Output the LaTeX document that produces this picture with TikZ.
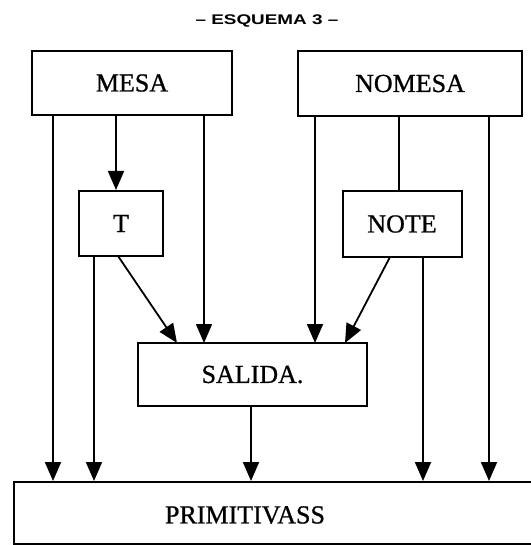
\documentclass[tikz,border=0pt]{standalone}
\usepackage{fontspec}
\setmainfont{Liberation Serif}
\newfontfamily\boxfont{Liberation Serif}[FakeBold=0.8]
\newfontfamily\titlefont{Liberation Sans}
\usetikzlibrary{arrows.meta,calc}

\begin{document}
\begin{tikzpicture}[x=1pt,y=-1pt,
 box/.style={draw, line width=2pt, inner sep=0pt, font=\boxfont\fontsize{26}{30}\selectfont},
 arr/.style={-{Triangle[length=19pt,width=16pt]}, line width=1.8pt},
 bare/.style={line width=1.8pt}]
 \useasboundingbox (0,0) rectangle (530,545);
 \node[font=\titlefont\bfseries\fontsize{14}{16}\selectfont] (title) at (267,21) {\scalebox{1.35}[1]{\textendash\ ESQUEMA 3 \textendash}};
 \node[box, minimum width=200, minimum height=64] (mesa) at (132,83) {MESA};
 \node[box, minimum width=224, minimum height=65] (nomesa) at (410,83.5) {NOMESA};
 \node[box, minimum width=84, minimum height=65] (t) at (121,223.5) {T};
 \node[box, minimum width=119, minimum height=66] (note) at (402,224) {NOTE};
 \node[box, minimum width=229, minimum height=63] (salida) at (252.5,374.5) {SALIDA.};
 \node[box, minimum width=532, minimum height=62, anchor=north west] (prim) at (13,481) {};
 \node[font=\boxfont\fontsize{26}{30}\selectfont] (primtext) at (245,515) {PRIMITIVASS};
 % entry points
 \coordinate (p1) at (53,481);
 \coordinate (p2) at (94,481);
 \coordinate (p3) at (251,481);
 \coordinate (p4) at (423,481);
 \coordinate (p5) at (489,481);
 \coordinate (s1) at (177,343);
 \coordinate (s2) at (204,343);
 \coordinate (s3) at (315,343);
 \coordinate (s4) at (345,343);
 \coordinate (t1) at (118,256);
 \coordinate (n1) at (390,257);
 \coordinate (n2) at (399,191);
 % connectors
 \draw[arr] (mesa.south -| p1) -- (p1);
 \draw[arr] ([xshift=-5pt]mesa.south -| t.north) -- ([xshift=-5pt]t.north);
 \draw[arr] (mesa.south -| s2) -- (s2);
 \draw[arr] (t.south -| p2) -- (p2);
 \draw[arr] (t1) -- (s1);
 \draw[arr] (nomesa.south -| s3) -- (s3);
 \draw[bare] (nomesa.south -| n2) -- (n2);
 \draw[arr] (nomesa.south -| p5) -- (p5);
 \draw[arr] (n1) -- (s4);
 \draw[arr] (note.south -| p4) -- (p4);
 \draw[arr] (salida.south -| p3) -- (p3);
\end{tikzpicture}
\end{document}
